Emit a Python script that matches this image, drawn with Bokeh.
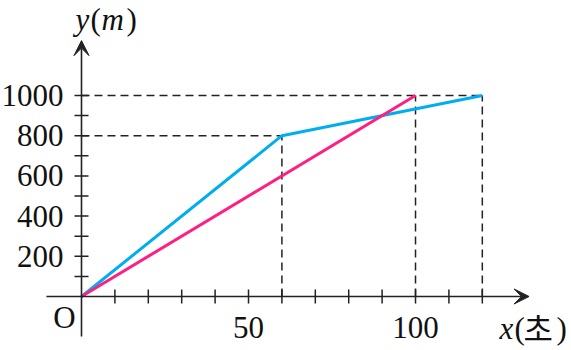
from bokeh.plotting import figure
from bokeh.models import Range1d, Arrow, VeeHead
from bokeh.core.properties import value
from bokeh.embed import file_html
from bokeh.resources import INLINE

# ---- data ----
blue_x = [0, 60, 120]
blue_y = [0, 800, 1000]
pink_x = [0, 100]
pink_y = [0, 1000]
x_ticks = [10, 20, 30, 40, 50, 60, 70, 80, 90, 100, 110, 120]
y_ticks = [100, 200, 300, 400, 500, 600, 700, 800, 900, 1000]
x_label_vals = [50, 100]
x_label_text = ["50", "100"]
y_label_vals = [200, 400, 600, 800, 1000]
y_label_text = ["200", "400", "600", "800", "1000"]
x_axis_extent = [-10.5, 134]
y_axis_extent = [-199, 1273]

SERIF = value("Liberation Serif")
FS = "31px"
INK = "#222222"
BLUE = "#00AEEF"
PINK = "#FF1F82"

p = figure(width=571, height=350, output_backend="svg", toolbar_location=None,
           x_range=Range1d(-24.25, 146.7), y_range=Range1d(-268.7, 1472.6),
           x_axis_type=None, y_axis_type=None, min_border=0,
           outline_line_color=None)
p.grid.visible = False

# dashed guide lines
dash = "8 5"
p.segment(x0=[0, 0], y0=[blue_y[2], blue_y[1]], x1=[blue_x[2], blue_x[1]], y1=[blue_y[2], blue_y[1]],
          line_color=INK, line_width=1.5, line_dash=dash)
p.segment(x0=[blue_x[1], pink_x[1], blue_x[2]], y0=[0, 0, 0],
          x1=[blue_x[1], pink_x[1], blue_x[2]], y1=[blue_y[1], pink_y[1], blue_y[2]],
          line_color=INK, line_width=1.5, line_dash=dash)

# axes with arrows
p.add_layout(Arrow(end=VeeHead(size=15, fill_color=INK, line_color=INK, line_width=1),
                   x_start=x_axis_extent[0], y_start=0, x_end=x_axis_extent[1], y_end=0,
                   line_color=INK, line_width=1.6))
p.add_layout(Arrow(end=VeeHead(size=15, fill_color=INK, line_color=INK, line_width=1),
                   x_start=0, y_start=y_axis_extent[0], x_end=0, y_end=y_axis_extent[1],
                   line_color=INK, line_width=1.6))

# tick marks (7 px each side)
p.segment(x0=x_ticks, y0=[-35] * len(x_ticks), x1=x_ticks, y1=[35] * len(x_ticks),
          line_color=INK, line_width=1.5)
p.segment(x0=[-2.1] * len(y_ticks), y0=y_ticks, x1=[2.1] * len(y_ticks), y1=y_ticks,
          line_color=INK, line_width=1.5)

# data lines
p.line(blue_x, blue_y, line_color=BLUE, line_width=3)
p.line(pink_x, pink_y, line_color=PINK, line_width=3)

# tick labels
p.text(x=[0] * len(y_label_vals), y=y_label_vals, text=y_label_text, x_offset=-18,
       text_align="right", text_baseline="middle", text_font=SERIF, text_font_size=FS,
       text_color="#111111")
p.text(x=x_label_vals, y=[0] * len(x_label_vals), text=x_label_text, y_offset=31,
       text_align="center", text_baseline="middle", text_font=SERIF, text_font_size=FS,
       text_color="#111111")
p.text(x=[0], y=[0], text=["O"], x_offset=-17, y_offset=21,
       text_align="center", text_baseline="middle", text_font=SERIF, text_font_size=FS,
       text_color="#111111")

# axis titles
def piece(x, y, t, dx, dy, style="normal", font=SERIF, size=FS):
    p.text(x=[x], y=[y], text=[t], x_offset=dx, y_offset=dy, text_align="left",
           text_baseline="middle", text_font=font, text_font_style=style,
           text_font_size=size, text_color="#111111")

top = y_axis_extent[1]
piece(0, top, "y", -6, -21, "italic")
piece(0, top, "(", 9, -21)
piece(0, top, "m", 20, -21, "italic")
piece(0, top, ")", 45, -21)

piece(0, 0, "x", 418, 32, "italic")
piece(0, 0, "(", 433, 32)
piece(0, 0, "초", 442, 31, font=value("Noto Sans CJK KR"), size="32px")
piece(0, 0, ")", 475, 32)

open("out.html", "w").write(file_html(p, INLINE))
